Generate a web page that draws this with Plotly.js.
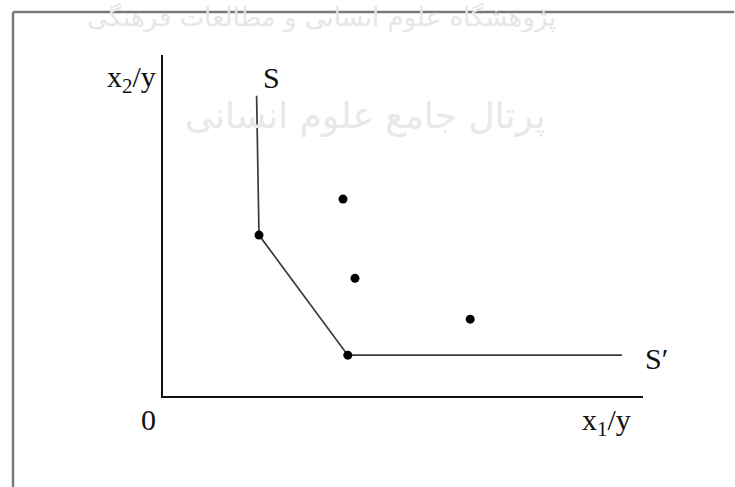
<!DOCTYPE html>
<html>
<head>
<meta charset="utf-8">
<script src="https://cdn.plot.ly/plotly-3.0.1.min.js"></script>
<style>html,body{margin:0;padding:0;background:#fff;}#chart{width:735px;height:487px;}</style>
</head>
<body>
<div id="chart"></div>
<script>
// Efficient frontier (isoquant S-S')
const frontierX = [1.95, 2.0, 3.85, 9.56];
const frontierY = [6.25, 3.35, 0.85, 0.85];
// Observed units (dots)
const dmuX = [2.0, 3.75, 4.0, 6.4, 3.85];
const dmuY = [3.35, 4.1, 2.45, 1.6, 0.85];
// Labels
const yLabel = "x<sub>2</sub>/y";
const xLabel = "x<sub>1</sub>/y";
const originLabel = "0";
const startLabel = "S";
const endLabel = "S\u2032";
const watermark1 = "پژوهشگاه علوم انسانی و مطالعات فرهنگی";
const watermark2 = "پرتال جامع علوم انسانی";

const serif = "Liberation Serif, Times New Roman, serif";
const txt = {family: serif, size: 30, color: "#111"};

const traces = [
  {x: frontierX, y: frontierY, mode: "lines", type: "scatter",
   line: {color: "#3a3a3a", width: 1.7}, hoverinfo: "skip", showlegend: false, cliponaxis: false},
  {x: dmuX, y: dmuY, mode: "markers", type: "scatter",
   marker: {color: "#000", size: 9}, hoverinfo: "skip", showlegend: false, cliponaxis: false}
];

function ann(text, x, y, xanchor, font) {
  return {text: text, x: x, y: y, xref: "paper", yref: "paper", xanchor: xanchor, yanchor: "middle",
          showarrow: false, font: font || txt};
}

const layout = {
  width: 735, height: 487,
  margin: {l: 163, r: 92, t: 55, b: 91, pad: 0},
  paper_bgcolor: "#fff", plot_bgcolor: "rgba(0,0,0,0)",
  showlegend: false,
  xaxis: {range: [0, 10], showline: true, linecolor: "#111", linewidth: 2,
          showgrid: false, zeroline: false, showticklabels: false, ticks: "", fixedrange: true},
  yaxis: {range: [0, 7.1], showline: true, linecolor: "#111", linewidth: 2,
          showgrid: false, zeroline: false, showticklabels: false, ticks: "", fixedrange: true},
  shapes: [
    {type: "line", xref: "paper", yref: "paper", x0: -0.3125, x1: -0.3125, y0: 1.126, y1: -0.28,
     line: {color: "#7a7a7a", width: 2.5}},
    {type: "line", xref: "paper", yref: "paper", x0: -0.3125, x1: 1.19, y0: 1.126, y1: 1.126,
     line: {color: "#7a7a7a", width: 2.5}}
  ],
  annotations: [
    ann(watermark1, 0.33, 1.11, "center", {family: "DejaVu Sans", size: 26, color: "#e6e6e6"}),
    ann(watermark2, 0.42, 0.82, "center", {family: "DejaVu Sans", size: 36, color: "#e8e8e8"}),
    ann(yLabel, -0.0104, 0.93, "right"),
    ann(startLabel, 0.204, 0.933, "left"),
    ann(originLabel, -0.031, -0.068, "center"),
    ann(xLabel, 0.923, -0.077, "center"),
    ann(endLabel, 1.0, 0.111, "left")
  ]
};

Plotly.newPlot("chart", traces, layout, {staticPlot: true, displayModeBar: false});
</script>
</body>
</html>
